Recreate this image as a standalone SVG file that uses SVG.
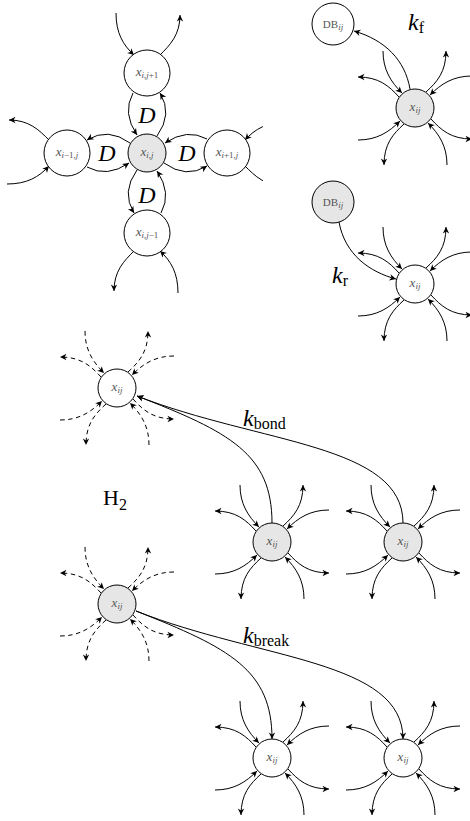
<svg xmlns="http://www.w3.org/2000/svg" width="470" height="821" viewBox="0 0 470 821">
<style>
.e{fill:none;stroke:#000;stroke-width:1;marker-end:url(#ah)}
.n{fill:#fff;stroke:#000;stroke-width:1}
.g{fill:#e6e6e6}
.dash{stroke-dasharray:4.5 3.5}
.lb{font-family:"Liberation Serif","DejaVu Serif",serif;fill:#555;font-size:13px}
.db{font-size:11px}
.it{font-style:italic}
.sub{font-size:9px}
.big{font-family:"Liberation Serif","DejaVu Serif",serif;fill:#000;font-size:24px}
.bsub{font-size:16px;font-style:normal}
</style>
<defs>
<marker id="ah" markerUnits="userSpaceOnUse" markerWidth="8" markerHeight="8" viewBox="-7 -4 8 8" refX="0" refY="0" orient="auto">
<path d="M0,0 L-6.5,-3.2 L-4.6,0 L-6.5,3.2 Z" fill="#000" stroke="none"/>
</marker>
<clipPath id="clipR"><rect x="0" y="0" width="263" height="821"/></clipPath>
<g id="q"><path class="e" d="M-32,-57 C-32,-38 -24,-26 -13,-15"/><path class="e" d="M11,-16 C22,-26 31,-36 31,-57"/></g>
<g id="star"><use href="#q"/><use href="#q" transform="rotate(90)"/><use href="#q" transform="rotate(180)"/><use href="#q" transform="rotate(270)"/></g>
<g id="pair"><path class="e" d="M-31,-60 C-31,-40 -24,-28 -13,-18"/><path class="e" d="M13,-18 C23,-28 33,-38 33,-58"/></g>
<g id="darc"><path class="e" d="M60,-14 Q40,-25 18,-10"/><path class="e" d="M17,10 Q39,26 60,13"/></g>
</defs>

<g id="connectors">
<use href="#darc" transform="translate(147,153)"/>
<use href="#darc" transform="translate(147,153) rotate(90)"/>
<use href="#darc" transform="translate(147,153) rotate(180)"/>
<use href="#darc" transform="translate(147,153) rotate(270)"/>
<use href="#pair" transform="translate(147,73)"/>
<use href="#pair" transform="translate(67,153) rotate(-90)"/>
<use href="#pair" transform="translate(147,233) rotate(180)"/>
<g clip-path="url(#clipR)"><use href="#pair" transform="translate(227,153) rotate(90)"/></g>

<use href="#star" x="415" y="108"/>
<path class="e" d="M410,89 C405,60 385,40 354,31"/>
<use href="#star" x="415" y="284"/>
<path class="e" d="M339,222 C345,255 370,272 396,279"/>

<use href="#star" x="117" y="388" class="dash"/>
<use href="#star" x="272" y="542"/>
<use href="#star" x="403" y="542"/>
<path class="e" d="M272,523 C272,454 230,432 137,396"/>
<path class="e" d="M403,523 C403,444 260,444 137,396"/>

<use href="#star" x="117" y="604" class="dash"/>
<use href="#star" x="272" y="758"/>
<use href="#star" x="403" y="758"/>
<path class="e" d="M136,611 C230,648 272,670 272,739"/>
<path class="e" d="M136,611 C260,660 403,660 403,739"/>
</g>

<g id="n-top"><circle class="n" cx="147" cy="73" r="23"/><text class="lb" x="147" y="76" text-anchor="middle"><tspan class="it">x</tspan><tspan class="sub" dy="2"><tspan class="it">i</tspan>,<tspan class="it">j</tspan>+1</tspan></text></g>
<g id="n-left"><circle class="n" cx="67" cy="153" r="23"/><text class="lb" x="67" y="156" text-anchor="middle"><tspan class="it">x</tspan><tspan class="sub" dy="2"><tspan class="it">i</tspan>−1,<tspan class="it">j</tspan></tspan></text></g>
<g id="n-center"><circle class="n g" cx="147" cy="153" r="19"/><text class="lb" x="147" y="156" text-anchor="middle"><tspan class="it">x</tspan><tspan class="sub it" dy="2">i,j</tspan></text></g>
<g id="n-right"><circle class="n" cx="227" cy="153" r="23"/><text class="lb" x="227" y="156" text-anchor="middle"><tspan class="it">x</tspan><tspan class="sub" dy="2"><tspan class="it">i</tspan>+1,<tspan class="it">j</tspan></tspan></text></g>
<g id="n-bottom"><circle class="n" cx="147" cy="233" r="23"/><text class="lb" x="147" y="236" text-anchor="middle"><tspan class="it">x</tspan><tspan class="sub" dy="2"><tspan class="it">i</tspan>,<tspan class="it">j</tspan>−1</tspan></text></g>

<g id="db-f"><circle class="n" cx="333" cy="24" r="21"/><text class="lb db" x="333" y="28" text-anchor="middle">DB<tspan class="sub it" dy="2">ij</tspan></text></g>
<g id="x-f"><circle class="n g" cx="415" cy="108" r="19"/><text class="lb" x="415" y="111" text-anchor="middle"><tspan class="it">x</tspan><tspan class="sub it" dy="2">ij</tspan></text></g>
<g id="db-r"><circle class="n g" cx="333" cy="202" r="21"/><text class="lb db" x="333" y="206" text-anchor="middle">DB<tspan class="sub it" dy="2">ij</tspan></text></g>
<g id="x-r"><circle class="n" cx="415" cy="284" r="19"/><text class="lb" x="415" y="287" text-anchor="middle"><tspan class="it">x</tspan><tspan class="sub it" dy="2">ij</tspan></text></g>

<g id="h-bond"><circle class="n" cx="117" cy="388" r="19"/><text class="lb" x="117" y="391" text-anchor="middle"><tspan class="it">x</tspan><tspan class="sub it" dy="2">ij</tspan></text></g>
<g id="b1"><circle class="n g" cx="272" cy="542" r="19"/><text class="lb" x="272" y="545" text-anchor="middle"><tspan class="it">x</tspan><tspan class="sub it" dy="2">ij</tspan></text></g>
<g id="b2"><circle class="n g" cx="403" cy="542" r="19"/><text class="lb" x="403" y="545" text-anchor="middle"><tspan class="it">x</tspan><tspan class="sub it" dy="2">ij</tspan></text></g>

<g id="h-break"><circle class="n g" cx="117" cy="604" r="19"/><text class="lb" x="117" y="607" text-anchor="middle"><tspan class="it">x</tspan><tspan class="sub it" dy="2">ij</tspan></text></g>
<g id="k1"><circle class="n" cx="272" cy="758" r="19"/><text class="lb" x="272" y="761" text-anchor="middle"><tspan class="it">x</tspan><tspan class="sub it" dy="2">ij</tspan></text></g>
<g id="k2"><circle class="n" cx="403" cy="758" r="19"/><text class="lb" x="403" y="761" text-anchor="middle"><tspan class="it">x</tspan><tspan class="sub it" dy="2">ij</tspan></text></g>

<g id="labels">
<text class="big it" x="187" y="161" text-anchor="middle">D</text>
<text class="big it" x="107" y="161" text-anchor="middle">D</text>
<text class="big it" x="147" y="123" text-anchor="middle">D</text>
<text class="big it" x="147" y="203" text-anchor="middle">D</text>
<text class="big" x="408" y="30"><tspan class="it">k</tspan><tspan class="bsub" dy="3">f</tspan></text>
<text class="big" x="332" y="283"><tspan class="it">k</tspan><tspan class="bsub" dy="3">r</tspan></text>
<text class="big" x="243" y="426"><tspan class="it">k</tspan><tspan class="bsub" dy="3">bond</tspan></text>
<text class="big" x="243" y="643"><tspan class="it">k</tspan><tspan class="bsub" dy="3">break</tspan></text>
<text class="big" x="103" y="505" style="font-size:22px">H<tspan class="bsub" dy="5">2</tspan></text>
</g>
</svg>
